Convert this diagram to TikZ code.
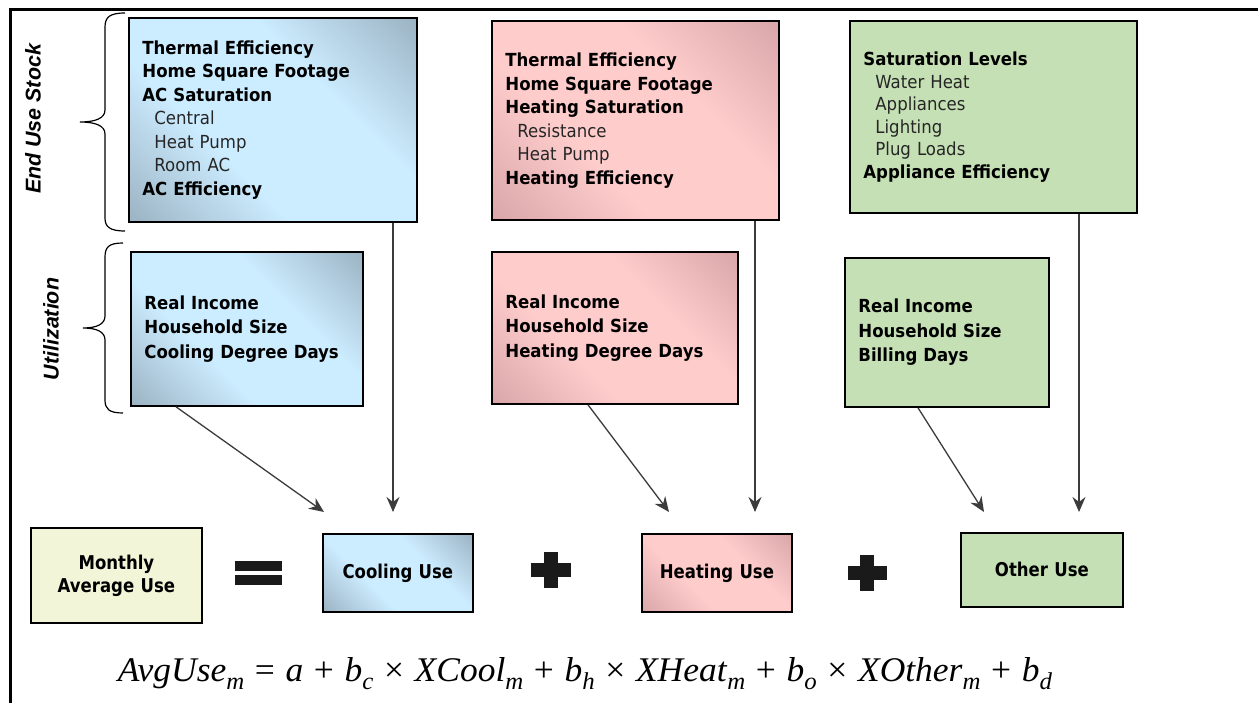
\documentclass[tikz,border=0pt]{standalone}
\usepackage[no-math]{fontspec}
\usepackage{graphicx}
\setmainfont{DejaVu Sans}[FakeStretch=0.92]
\newfontfamily\labfont{DejaVu Sans}[FakeStretch=0.87]
\newfontfamily\sidefont{Liberation Sans}
\newfontfamily\eqfont{Liberation Serif}
\usetikzlibrary{arrows.meta}
\definecolor{cooll}{HTML}{CCECFF}
\definecolor{coold}{HTML}{9CB4C4}
\definecolor{heatl}{HTML}{FFCCCC}
\definecolor{heatd}{HTML}{D9A7A9}
\definecolor{othc}{HTML}{C5E0B4}
\definecolor{monc}{HTML}{F2F5D7}
\definecolor{arr}{HTML}{3C3C3C}
\definecolor{symb}{HTML}{1A1A1A}
\pgfdeclarehorizontalshading{coolsh}{100bp}{color(0bp)=(coold); color(15bp)=(coold); color(38bp)=(cooll); color(62bp)=(cooll); color(85bp)=(coold); color(100bp)=(coold)}
\pgfdeclarehorizontalshading{heatsh}{100bp}{color(0bp)=(heatd); color(15bp)=(heatd); color(38bp)=(heatl); color(62bp)=(heatl); color(85bp)=(heatd); color(100bp)=(heatd)}
\newcommand{\sub}[1]{\hspace*{12pt}{\mdseries\color{black!85}#1}}
\newcommand{\vr}[2]{\textit{#1}\raisebox{-0.24em}{\fontsize{21}{21}\selectfont\itshape #2}}
\newcommand{\op}[1]{\hspace{0.3em}#1\hspace{0.3em}}
\tikzset{
  box/.style={draw=black, line width=1.8pt, anchor=north west, align=left,
    inner xsep=13.5pt, font=\fontsize{18}{23.5}\selectfont\bfseries},
  usebox/.style={draw=black, line width=1.8pt, anchor=north west, align=center,
    inner xsep=2pt, font=\labfont\fontsize{19}{23}\selectfont\bfseries},
  coolfill/.style={shading=coolsh, shading angle=45},
  heatfill/.style={shading=heatsh, shading angle=45},
  conn/.style={draw=arr, line width=1.3pt, -{Stealth[length=15pt, width=13pt, inset=5pt]}},
  brace/.style={draw=black, line width=1.2pt},
  sidelab/.style={rotate=90, font=\sidefont\fontsize{21.4}{24}\selectfont\bfseries\itshape},
}
\begin{document}
\begin{tikzpicture}[x=1pt, y=-1pt]
\useasboundingbox[fill=white] (0,0) rectangle (1258,703);
% frame
\draw[line width=3pt, black] (10,712) -- (10,10) -- (1268,10);
% braces
\draw[brace] (125,13) .. controls (110,13) and (105,17) .. (105,27) -- (105,110)
  .. controls (105,118) and (96,122) .. (80,122) .. controls (96,122) and (105,126) .. (105,134)
  -- (105,218) .. controls (105,227) and (110,231) .. (125,231);
\draw[brace] (123,243) .. controls (109,243) and (105,247) .. (105,257) -- (105,316)
  .. controls (105,324) and (97,328) .. (83,328) .. controls (97,328) and (105,332) .. (105,340)
  -- (105,400) .. controls (105,409) and (109,413) .. (123,413);
\node[sidelab] (lab1) at (33,119) {End Use Stock};
\node[sidelab] (lab2) at (51,329) {Utilization};
% top boxes
\node[box, coolfill, minimum width=288pt, text width=261pt, minimum height=204pt] (ct) at (128,17)
  {Thermal Efficiency\\Home Square Footage\\AC Saturation\\\sub{Central}\\\sub{Heat Pump}\\\sub{Room AC}\\AC Efficiency};
\node[box, coolfill, minimum width=232pt, text width=205pt, minimum height=154pt, font=\fontsize{18}{24.5}\selectfont\bfseries] (cu) at (130,251)
  {Real Income\\Household Size\\Cooling Degree Days};
\node[box, heatfill, minimum width=287pt, text width=260pt, minimum height=199pt] (ht) at (491,20)
  {Thermal Efficiency\\Home Square Footage\\Heating Saturation\\\sub{Resistance}\\\sub{Heat Pump}\\Heating Efficiency};
\node[box, heatfill, minimum width=246pt, text width=219pt, minimum height=152pt, font=\fontsize{18}{24.5}\selectfont\bfseries] (hu) at (491,251)
  {Real Income\\Household Size\\Heating Degree Days};
\node[box, fill=othc, minimum width=287pt, text width=260pt, minimum height=192pt, font=\fontsize{18}{22.5}\selectfont\bfseries] (ot) at (849,20)
  {Saturation Levels\\\sub{Water Heat}\\\sub{Appliances}\\\sub{Lighting}\\\sub{Plug Loads}\\Appliance Efficiency};
\node[box, fill=othc, minimum width=204pt, text width=177pt, minimum height=149pt, font=\fontsize{18}{24.5}\selectfont\bfseries] (ou) at (844,257)
  {Real Income\\Household Size\\Billing Days};
% bottom row
\node[usebox, fill=monc, minimum width=171pt, text width=167pt, minimum height=95pt] (mon) at (30,527) {Monthly\\Average Use};
\node[usebox, coolfill, minimum width=150pt, text width=146pt, minimum height=78pt] (cool) at (322,533) {Cooling Use};
\node[usebox, heatfill, minimum width=150pt, text width=146pt, minimum height=78pt] (heat) at (641,533) {Heating Use};
\node[usebox, fill=othc, minimum width=162pt, text width=158pt, minimum height=74pt] (oth) at (960,532) {Other Use};
% equals and plus signs
\fill[symb] (235,561) rectangle (282,571);
\fill[symb] (235,575) rectangle (282,585);
\fill[symb] (531,563) rectangle (571,577);
\fill[symb] (544,552) rectangle (558,588);
\fill[symb] (848,566) rectangle (887,580);
\fill[symb] (860,555) rectangle (874,591);
% arrow end points
\coordinate (e1) at (324,512);
\coordinate (e2) at (393,512);
\coordinate (e3) at (669,512);
\coordinate (e4) at (755,512);
\coordinate (e5) at (984,512);
\coordinate (e6) at (1079,512);
\draw[conn] ([xshift=46pt]cu.south west) -- (e1);
\draw[conn] (e2 |- ct.south) -- (e2);
\draw[conn] ([xshift=97pt]hu.south west) -- (e3);
\draw[conn] (e4 |- ht.south) -- (e4);
\draw[conn] ([xshift=74pt]ou.south west) -- (e5);
\draw[conn] (e6 |- ot.south) -- (e6);
% formula
\node[anchor=base] (eq) at (585,681) {\resizebox{934pt}{24pt}{\eqfont\fontsize{30}{32}\selectfont
  \vr{AvgUse}{m}\op{=}\textit{a}\op{+}\vr{b}{c}\op{×}\vr{XCool}{m}\op{+}\vr{b}{h}\op{×}\vr{XHeat}{m}\op{+}\vr{b}{o}\op{×}\vr{XOther}{m}\op{+}\vr{b}{d}}};
\end{tikzpicture}
\end{document}
